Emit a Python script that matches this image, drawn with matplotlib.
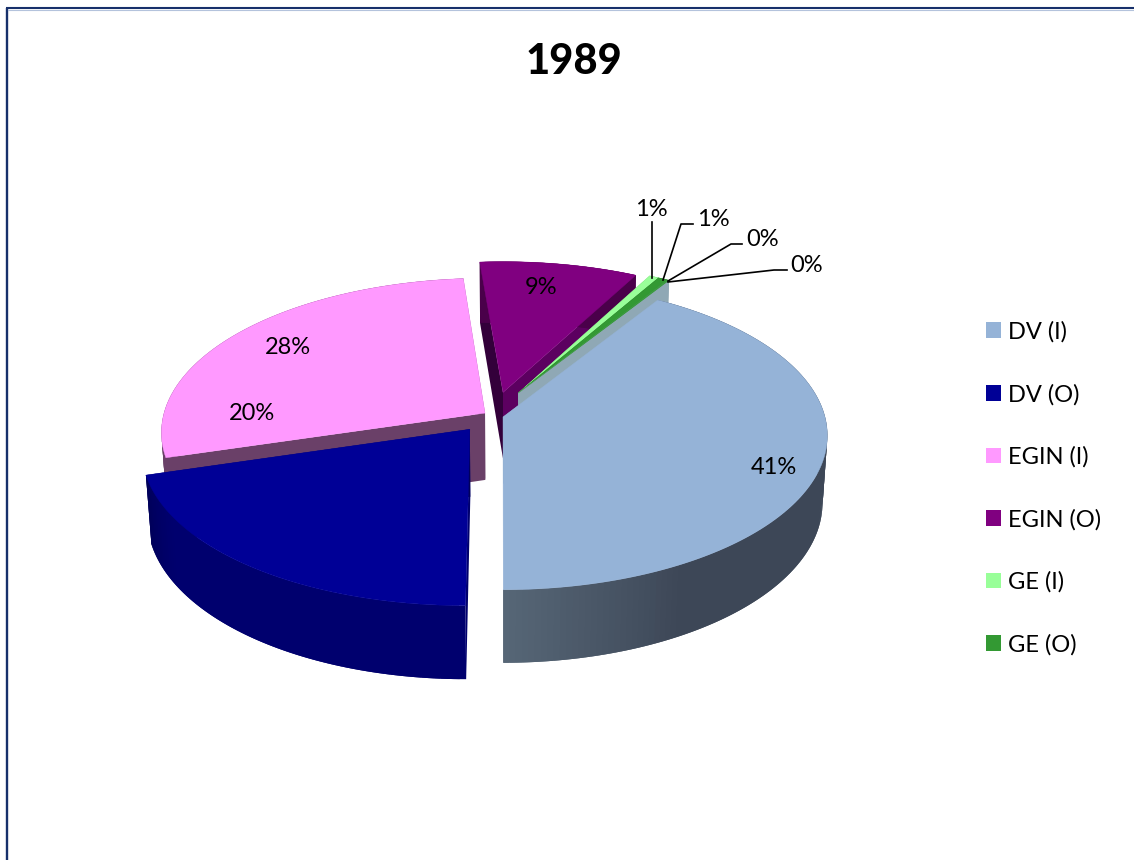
import numpy as np
import matplotlib
matplotlib.use("Agg")
import matplotlib.pyplot as plt
from matplotlib.colors import to_rgb
from matplotlib.patches import Patch

plt.rcParams["font.family"] = ["Lato", "DejaVu Sans"]

# values
legend_names = ["DV (I)", "DV (O)", "EGIN (I)", "EGIN (O)", "GE (I)", "GE (O)"]
shares = [41.1, 20.4, 28.3, 9.0, 0.55, 0.55, 0.05, 0.05]
title = "1989"

# colours, top surface and outer wall (start, end of the arc)
top_colors = ["#95B3D7", "#000096", "#FF99FF", "#800080", "#99FF99", "#339933", "#339933", "#339933"]
wall_start = ["#3D4757", "#00006E", "#6A4068", "#4A004A", "#5F9F5F", "#1F5F1F", "#8FA8B5", "#8FA8B5"]
wall_end = ["#566676", "#00005A", "#6A4068", "#4A004A", "#5F9F5F", "#1F5F1F", "#8FA8B5", "#8FA8B5"]
cut_colors = ["#8FA8B5", "#00005A", "#6A4068", "#5C0060", "#5F9F5F", "#1F5F1F", "#8FA8B5", "#8FA8B5"]
back_cut_colors = ["#8FA8B5", "#00006E", "#6A4068", "#33003A", "#5F9F5F", "#1F5F1F", "#8FA8B5", "#8FA8B5"]

# explode of each slice on the pie plane
shift_u = [0, -0.102, -0.056, 0.0, 0.048, 0.048, 0.048, 0.048]
shift_v = [0, -0.08, 0.026, 0.165, 0.16, 0.16, 0.16, 0.16]

# camera
X0, Y0 = 503, 417
R, TILT, H = 322, 0.472, 68
K, M = 0.12, 0.015
START = 58.


def proj(u, v, d=0.):
    p = 1/(1 + K*v + M*d)
    return X0 + R*u*p, Y0 - R*TILT*v*p + H*d*p


def wall(ax, u, v, color, z):
    x0, y0 = proj(u, v)
    x1, y1 = proj(u, v, 1.)
    ax.fill(np.r_[x0, x1[::-1]], np.r_[y0, y1[::-1]], color=color, lw=0, zorder=z)


fig = plt.figure(figsize=(11.34, 8.6), dpi=100)
ax = fig.add_axes([0, 0, 1, 1])
ax.set_xlim(0, 1134)
ax.set_ylim(860, 0)
ax.axis("off")

# chart frame
ax.plot([7, 7], [860, 8], color="#17306B", lw=1.7, solid_capstyle="butt")
ax.plot([6, 1134], [8, 8], color="#17306B", lw=1.5, solid_capstyle="butt")
ax.plot([8, 1134], [9.5, 9.5], color="#B4C3DC", lw=0.8)

ax.text(574, 62, title, fontsize=30, fontweight=900, ha="center", va="center")

# angles, clockwise from START
edges = START - np.cumsum([0] + shares)*3.6
order = [2, 3, 4, 5, 6, 7, 0, 1]
z = 2
for i in order:
    n = max(8, int(abs(edges[i+1] - edges[i])))
    t = np.radians(np.linspace(edges[i], edges[i+1], n + 1))
    cu = shift_u[i]
    cv = shift_v[i]
    u = cu + np.cos(t)
    v = cv + np.sin(t)
    # the two cut faces
    wall(ax, np.array([cu, u[0]]), np.array([cv, v[0]]), back_cut_colors[i], z)
    wall(ax, np.array([cu, u[-1]]), np.array([cv, v[-1]]), cut_colors[i], z)
    # outer wall in short overlapping pieces, the last part fades to the lighter colour
    c0 = np.array(to_rgb(wall_start[i]))
    c1 = np.array(to_rgb(wall_end[i]))
    for j in range(n):
        f = max(0., (j/(n - 1) - 0.8)/0.2)
        wall(ax, u[j:j+3], v[j:j+3], tuple(c0 + (c1 - c0)*f), z)
    # top
    x, y = proj(np.r_[cu, u], np.r_[cv, v])
    ax.fill(x, y, color=top_colors[i], lw=0.3, zorder=z+1)
    z += 2

# labels
labels = ["%d%%" % round(s) for s in shares]
label_xy = [(774, 468), (252, 414), (288, 347), (541, 287), (651, 209), (713, 219), (763, 239), (807, 265)]
for s, (lx, ly) in zip(labels, label_xy):
    ax.text(lx, ly, s, fontsize=17, ha="center", va="center", zorder=40)

# leader lines
ax.plot([652, 652], [222, 278], color="k", lw=1.2, zorder=39)
ax.plot([693, 681, 663], [224, 224, 280], color="k", lw=1.2, zorder=39)
ax.plot([742, 731, 668], [244, 244, 281], color="k", lw=1.2, zorder=39)
ax.plot([787, 774, 668], [270, 270, 282], color="k", lw=1.2, zorder=39)

handles = [Patch(color=c, lw=0) for c in top_colors[:6]]
ax.legend(handles, legend_names, loc="upper left", bbox_to_anchor=(979, 314), bbox_transform=ax.transData,
          frameon=False, fontsize=17, handlelength=0.64, handleheight=0.64, handletextpad=0.27,
          labelspacing=1.74, borderaxespad=0, borderpad=0.3)

plt.savefig("out.png", dpi=100)
